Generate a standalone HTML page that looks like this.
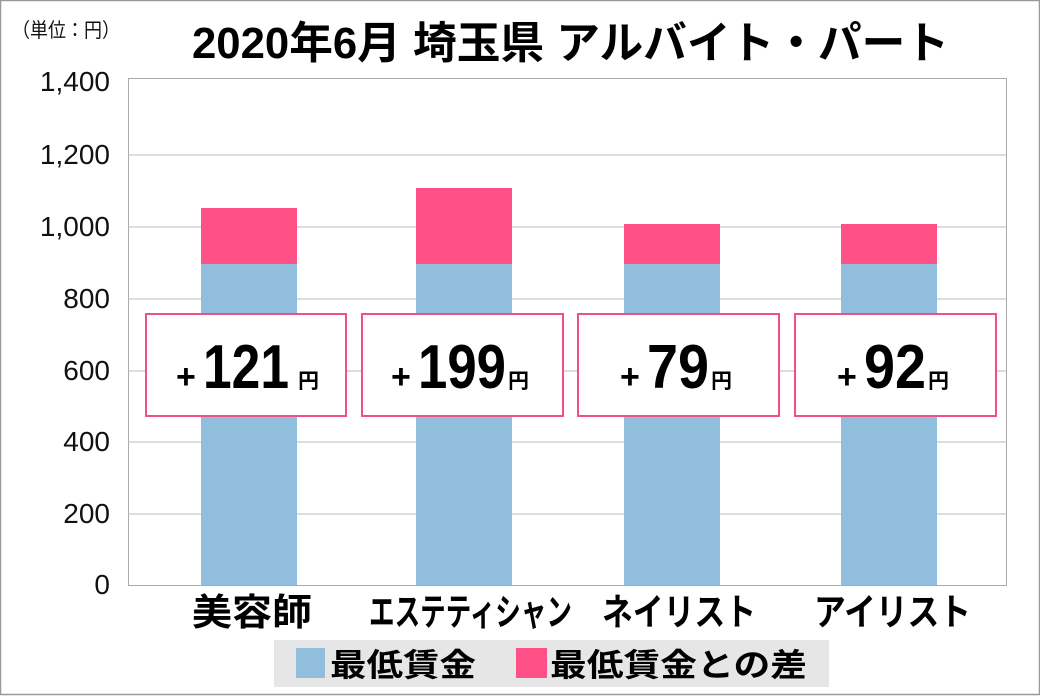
<!DOCTYPE html>
<html><head><meta charset="utf-8"><style>
body{margin:0;background:#fff}
svg{display:block}
text{font-family:"Liberation Sans","Noto Sans CJK JP",sans-serif}
</style></head><body>
<svg width="1040" height="696" viewBox="0 0 1040 696">
<rect x="0.5" y="0.5" width="1039" height="694" fill="#fff" stroke="#999" stroke-width="1.5"/>
<text x="12" y="37" font-size="20" fill="#111" textLength="108" lengthAdjust="spacingAndGlyphs">（単位：円）</text>
<text x="192" y="58" font-size="44" font-weight="bold" fill="#000" textLength="757" lengthAdjust="spacingAndGlyphs">2020年6月 埼玉県 アルバイト・パート</text>
<rect x="128.5" y="78.5" width="878" height="507" fill="#fff" stroke="#aaa"/>
<g stroke="#bbb" stroke-width="1">
<line x1="128" x2="1007" y1="155" y2="155"/><line x1="128" x2="1007" y1="227" y2="227"/>
<line x1="128" x2="1007" y1="299" y2="299"/><line x1="128" x2="1007" y1="371" y2="371"/>
<line x1="128" x2="1007" y1="442" y2="442"/><line x1="128" x2="1007" y1="514" y2="514"/>
</g>
<g font-size="28" text-anchor="end" fill="#111">
<text x="110" y="91">1,400</text><text x="110" y="164">1,200</text><text x="110" y="236">1,000</text>
<text x="110" y="308">800</text><text x="110" y="380">600</text><text x="110" y="451">400</text>
<text x="110" y="523">200</text><text x="110" y="594">0</text>
</g>
<g fill="#92bedd">
<rect x="201" y="264" width="96" height="321"/><rect x="416" y="264" width="96" height="321"/>
<rect x="624" y="264" width="96" height="321"/><rect x="841" y="264" width="96" height="321"/>
</g>
<g fill="#ff5088">
<rect x="201" y="208" width="96" height="56"/><rect x="416" y="188" width="96" height="76"/>
<rect x="624" y="224" width="96" height="40"/><rect x="841" y="224" width="96" height="40"/>
</g>
<g fill="#fff" stroke="#f05088" stroke-width="2">
<rect x="146" y="314" width="200" height="102"/><rect x="362" y="314" width="201" height="102"/>
<rect x="578" y="314" width="201" height="102"/><rect x="795" y="314" width="201" height="102"/>
</g>
<g font-weight="bold" fill="#000">
<text x="176" y="388" font-size="34">+</text>
<text x="203" y="388" font-size="62" textLength="86" lengthAdjust="spacingAndGlyphs">121</text>
<text x="298" y="388" font-size="21">円</text>
<text x="391" y="388" font-size="34">+</text>
<text x="418" y="388" font-size="62" textLength="88" lengthAdjust="spacingAndGlyphs">199</text>
<text x="508" y="388" font-size="21">円</text>
<text x="620" y="388" font-size="34">+</text>
<text x="647" y="388" font-size="62" textLength="62" lengthAdjust="spacingAndGlyphs">79</text>
<text x="711" y="388" font-size="21">円</text>
<text x="837" y="388" font-size="34">+</text>
<text x="864" y="388" font-size="62" textLength="62" lengthAdjust="spacingAndGlyphs">92</text>
<text x="928" y="388" font-size="21">円</text>
</g>
<g font-size="37" font-weight="bold" fill="#000">
<text x="192" y="625" textLength="120" lengthAdjust="spacingAndGlyphs">美容師</text>
<text x="369" y="625" textLength="203" lengthAdjust="spacingAndGlyphs">エステティシャン</text>
<text x="602" y="625" textLength="154" lengthAdjust="spacingAndGlyphs">ネイリスト</text>
<text x="814" y="625" textLength="157" lengthAdjust="spacingAndGlyphs">アイリスト</text>
</g>
<rect x="274" y="640" width="555" height="47" fill="#e6e6e6"/>
<rect x="296" y="648" width="29" height="30" fill="#92bedd"/>
<rect x="516" y="648" width="31" height="30" fill="#ff5088"/>
<g font-size="32" font-weight="bold" fill="#000">
<text x="330" y="676" textLength="146" lengthAdjust="spacingAndGlyphs">最低賃金</text>
<text x="550" y="676" textLength="257" lengthAdjust="spacingAndGlyphs">最低賃金との差</text>
</g>
</svg>
</body></html>
